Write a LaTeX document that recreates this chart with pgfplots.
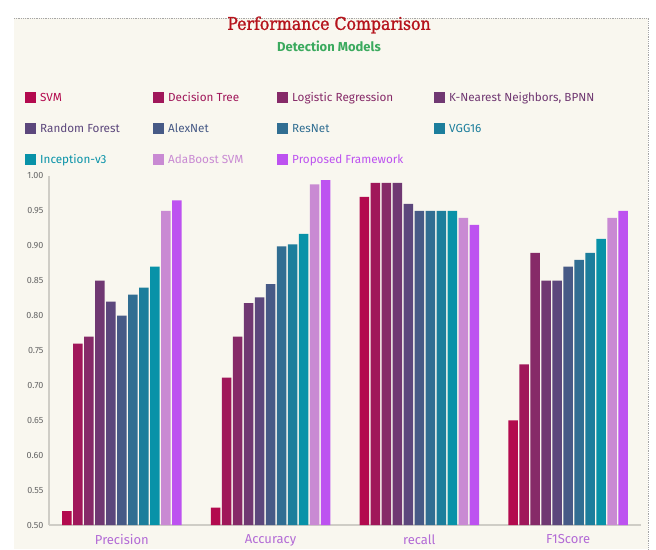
\documentclass[border=0pt]{standalone}
\usepackage{pgfplots}
\pgfplotsset{compat=1.18}
\usepackage{fontspec}
\setmainfont{Fira Sans}
\newfontfamily\titlefont{DejaVu Serif}[FakeStretch=0.9, FakeBold=1.2]
\newfontfamily\subfont{Fira Sans}[UprightFont=* Bold]
\definecolor{bgcream}{HTML}{F9F7EF}
\definecolor{cSVM}{HTML}{B30A4E}
\definecolor{cDT}{HTML}{A0175A}
\definecolor{cLR}{HTML}{862A68}
\definecolor{cKNN}{HTML}{703872}
\definecolor{cRF}{HTML}{5C477C}
\definecolor{cAlex}{HTML}{475A86}
\definecolor{cRes}{HTML}{316E92}
\definecolor{cVGG}{HTML}{1C7E9C}
\definecolor{cInc}{HTML}{0892A8}
\definecolor{cAda}{HTML}{C98AD3}
\definecolor{cProp}{HTML}{BD52F0}
\definecolor{titlered}{HTML}{B5121B}
\definecolor{subgreen}{HTML}{3BAA5E}
\definecolor{xlabcol}{HTML}{B36BD6}
\definecolor{axcol}{HTML}{CFCDC6}

% metrics: 0 Precision, 1 Accuracy, 2 recall, 3 F1Score
\pgfplotstableread{
x SVM DT LR KNN RF Alex Res VGG Inc Ada Prop
0 0.520 0.760 0.770 0.850 0.820 0.800 0.830 0.840 0.870 0.950 0.965
1 0.525 0.711 0.770 0.818 0.826 0.845 0.899 0.902 0.917 0.988 0.994
2 0.970 0.990 0.990 0.990 0.960 0.950 0.950 0.950 0.950 0.940 0.930
3 0.650 0.730 0.890 0.850 0.850 0.870 0.880 0.890 0.910 0.940 0.950
}\datatable

\begin{document}
\begin{tikzpicture}[x=1pt,y=1pt]
\fill[white] (0,0) rectangle (656,549);
\fill[bgcream] (14,0) rectangle (648,531);
\draw[gray!70, densely dotted, line width=0.8pt] (14,531) -- (648,531) -- (648,0);
\node[font=\titlefont\fontsize{17.5}{19}\selectfont, text=titlered] at (329,524) {Performance Comparison};
\node[font=\subfont\fontsize{13}{15}\selectfont, text=subgreen] at (329,503) {Detection Models};
\begin{axis}[
  at={(49pt,24pt)}, anchor=south west,
  scale only axis, width=592pt, height=349pt,
  xmin=-0.49, xmax=3.49, ymin=0.5, ymax=1.0,
  ybar=1.5pt, bar width=9.5pt,
  axis x line*=bottom, axis y line*=left,
  axis line style={axcol, line width=1.2pt, -},
  major tick length=0pt,
  xtick={0,1,2,3},
  xticklabels={Precision, Accuracy, recall, F1Score},
  x tick label style={font=\fontsize{13}{15}\selectfont, text=xlabcol, yshift=-6pt},
  ytick={0.5,0.55,...,1.001},
  y tick label style={font=\fontsize{9}{10}\selectfont, text=black!60, xshift=-2pt},
  yticklabel style={/pgf/number format/.cd, fixed, fixed zerofill, precision=2, assume math mode=true},
  legend columns=4,
  legend image code/.code={\fill[#1] (0pt,-5pt) rectangle (11pt,6pt);},
  legend style={at={(-27pt,435pt)}, anchor=north west, draw=none, fill=none,
    font=\fontsize{11.7}{13}\selectfont, row sep=19pt, column sep=0pt,
    nodes={inner sep=0pt, anchor=west, text height=9pt, text depth=3pt}},
  every axis plot/.append style={draw=none},
]
\addplot[fill=cSVM] table[x=x,y=SVM]{\datatable};
\addlegendentry{\hspace{4pt}\makebox[113pt][l]{\textcolor{cSVM}{SVM}}}
\addplot[fill=cDT] table[x=x,y=DT]{\datatable};
\addlegendentry{\hspace{4pt}\makebox[109pt][l]{\textcolor{cDT}{Decision Tree}}}
\addplot[fill=cLR] table[x=x,y=LR]{\datatable};
\addlegendentry{\hspace{4pt}\makebox[142pt][l]{\textcolor{cLR}{Logistic Regression}}}
\addplot[fill=cKNN] table[x=x,y=KNN]{\datatable};
\addlegendentry{\hspace{4pt}\textcolor{cKNN}{K-Nearest Neighbors, BPNN}}
\addplot[fill=cRF] table[x=x,y=RF]{\datatable};
\addlegendentry{\hspace{4pt}\makebox[113pt][l]{\textcolor{cRF}{Random Forest}}}
\addplot[fill=cAlex] table[x=x,y=Alex]{\datatable};
\addlegendentry{\hspace{4pt}\makebox[109pt][l]{\textcolor{cAlex}{AlexNet}}}
\addplot[fill=cRes] table[x=x,y=Res]{\datatable};
\addlegendentry{\hspace{4pt}\makebox[142pt][l]{\textcolor{cRes}{ResNet}}}
\addplot[fill=cVGG] table[x=x,y=VGG]{\datatable};
\addlegendentry{\hspace{4pt}\textcolor{cVGG}{VGG16}}
\addplot[fill=cInc] table[x=x,y=Inc]{\datatable};
\addlegendentry{\hspace{4pt}\makebox[113pt][l]{\textcolor{cInc}{Inception-v3}}}
\addplot[fill=cAda] table[x=x,y=Ada]{\datatable};
\addlegendentry{\hspace{4pt}\makebox[109pt][l]{\textcolor{cAda}{AdaBoost SVM}}}
\addplot[fill=cProp] table[x=x,y=Prop]{\datatable};
\addlegendentry{\hspace{4pt}\makebox[142pt][l]{\textcolor{cProp}{Proposed Framework}}}
\end{axis}
\end{tikzpicture}
\end{document}
